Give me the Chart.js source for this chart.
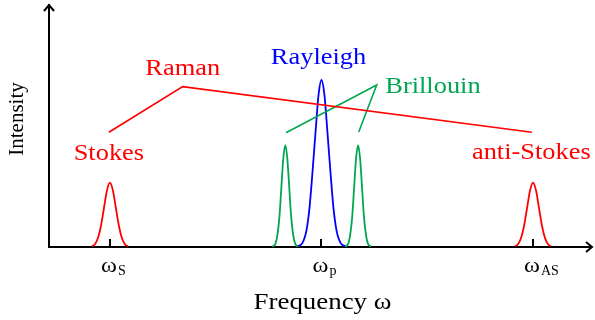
<!DOCTYPE html>
<html>
<head>
<meta charset="utf-8">
<title>Light scattering spectrum</title>
<script src="https://cdn.jsdelivr.net/npm/chart.js@4.4.1/dist/chart.umd.min.js"></script>
<style>
  html, body { margin: 0; padding: 0; background: #fff; }
</style>
</head>
<body>
<canvas id="spectrum" width="595" height="320"></canvas>
<script>
// frequency axis: omega_p = 0, omega_S = -1, omega_AS = +1 (arbitrary units)
const tickValues = [-1, 0, 1];
const tickSubs = ["S", "p", "AS"];

// Stokes (Raman) peak
const stokesX = [-1.085, -1.071, -1.057, -1.043, -1.028, -1.014, -1.0, -0.986, -0.972, -0.957, -0.943, -0.929, -0.915];
const stokesY = [0.004, 0.017, 0.052, 0.123, 0.235, 0.339, 0.385, 0.339, 0.235, 0.123, 0.052, 0.017, 0.004];

// anti-Stokes (Raman) peak
const antiStokesX = [0.915, 0.929, 0.943, 0.957, 0.972, 0.986, 1.0, 1.014, 1.028, 1.043, 1.057, 1.071, 1.085];
const antiStokesY = [0.004, 0.017, 0.052, 0.123, 0.235, 0.339, 0.385, 0.339, 0.235, 0.123, 0.052, 0.017, 0.004];

// Rayleigh peak
const rayleighX = [-0.118, -0.090, -0.071, -0.057, -0.043, -0.028, -0.014, 0, 0.014, 0.028, 0.043, 0.057, 0.071, 0.090, 0.118];
const rayleighY = [0.002, 0.025, 0.10, 0.23, 0.44, 0.69, 0.91, 1.0, 0.91, 0.69, 0.44, 0.23, 0.10, 0.025, 0.002];

// Brillouin peaks (lower / upper)
const brillouinLowX = [-0.232, -0.218, -0.209, -0.199, -0.190, -0.1805, -0.171, -0.1615, -0.152, -0.143, -0.133, -0.124, -0.110];
const brillouinLowY = [0.002, 0.019, 0.067, 0.177, 0.35, 0.53, 0.61, 0.53, 0.35, 0.177, 0.067, 0.019, 0.002];
const brillouinHighX = [0.112, 0.126, 0.135, 0.145, 0.154, 0.1635, 0.173, 0.1825, 0.192, 0.201, 0.211, 0.220, 0.234];
const brillouinHighY = [0.002, 0.019, 0.067, 0.177, 0.35, 0.53, 0.61, 0.53, 0.35, 0.177, 0.067, 0.019, 0.002];

// leader lines from the labels
const ramanLineX = [-1.005, -0.656, 0.994];
const ramanLineY = [0.687, 0.960, 0.687];
const brillouinLineX = [-0.168, 0.261, 0.176];
const brillouinLineY = [0.684, 0.970, 0.689];

const RED = "#ff0000";
const BLUE = "#0000ff";
const GREEN = "#00a651";
const SERIF = "'Liberation Serif', 'Times New Roman', serif";

const pts = (xs, ys) => xs.map((x, i) => ({ x: x, y: ys[i] }));

function peak(xs, ys, color) {
  return {
    data: pts(xs, ys),
    borderColor: color,
    borderWidth: 1.8,
    pointRadius: 0,
    fill: false,
    cubicInterpolationMode: "monotone"
  };
}

function leader(xs, ys, color) {
  return {
    data: pts(xs, ys),
    borderColor: color,
    borderWidth: 1.6,
    pointRadius: 0,
    fill: false,
    tension: 0
  };
}

// text labels (placed in data coordinates)
const annotations = [
  { text: "Raman", x: -0.656, y: 1.03, color: RED },
  { text: "Rayleigh", x: -0.014, y: 1.096, color: BLUE },
  { text: "Brillouin", x: 0.527, y: 0.92, color: GREEN },
  { text: "Stokes", x: -1.005, y: 0.52, color: RED },
  { text: "anti-Stokes", x: 0.992, y: 0.524, color: RED }
];

function wideText(ctx, text, x, y, sx) {
  ctx.save();
  ctx.translate(x, y);
  ctx.scale(sx, 1);
  ctx.fillText(text, 0, 0);
  ctx.restore();
}

const decorations = {
  id: "decorations",
  afterDraw(chart) {
    const ctx = chart.ctx;
    const xs = chart.scales.x, ys = chart.scales.y;
    const area = chart.chartArea;
    const x0 = area.left, y0 = area.bottom;

    ctx.save();
    ctx.strokeStyle = "#000";
    ctx.lineWidth = 2;
    ctx.lineJoin = "miter";

    // arrow heads
    ctx.beginPath();
    ctx.moveTo(area.right - 5, y0 - 5);
    ctx.lineTo(area.right + 1, y0);
    ctx.lineTo(area.right - 5, y0 + 5);
    ctx.stroke();
    ctx.beginPath();
    ctx.moveTo(x0 - 5, area.top + 6);
    ctx.lineTo(x0, area.top);
    ctx.lineTo(x0 + 5, area.top + 6);
    ctx.stroke();

    // tick marks pointing into the plot
    tickValues.forEach(v => {
      const px = Math.round(xs.getPixelForValue(v));
      ctx.beginPath();
      ctx.moveTo(px, y0);
      ctx.lineTo(px, y0 - 8);
      ctx.stroke();
    });

    // tick labels: omega with subscripts
    ctx.fillStyle = "#000";
    ctx.textBaseline = "alphabetic";
    tickValues.forEach((v, i) => {
      const px = xs.getPixelForValue(v);
      ctx.font = "21px " + SERIF;
      ctx.textAlign = "center";
      wideText(ctx, "ω", px - 1, 272, 1.15);
      const w = ctx.measureText("ω").width * 1.15;
      ctx.font = "14px " + SERIF;
      ctx.textAlign = "left";
      ctx.fillText(tickSubs[i], px - 1 + w / 2 + 1, 275);
    });

    // axis titles
    ctx.font = "24px " + SERIF;
    ctx.textAlign = "center";
    wideText(ctx, "Frequency ω", xs.getPixelForValue(0) + 1, 309, 1.12);
    ctx.save();
    ctx.translate(23, 119);
    ctx.rotate(-Math.PI / 2);
    ctx.font = "20px " + SERIF;
    ctx.textAlign = "center";
    wideText(ctx, "Intensity", 0, 0, 1.05);
    ctx.restore();

    // coloured labels
    ctx.font = "24px " + SERIF;
    ctx.textAlign = "center";
    annotations.forEach(a => {
      ctx.fillStyle = a.color;
      wideText(ctx, a.text, xs.getPixelForValue(a.x), ys.getPixelForValue(a.y), 1.1);
    });
    ctx.restore();
  }
};

new Chart(document.getElementById("spectrum"), {
  type: "line",
  data: {
    datasets: [
      leader(ramanLineX, ramanLineY, RED),
      leader(brillouinLineX, brillouinLineY, GREEN),
      peak(stokesX, stokesY, RED),
      peak(antiStokesX, antiStokesY, RED),
      peak(brillouinLowX, brillouinLowY, GREEN),
      peak(brillouinHighX, brillouinHighY, GREEN),
      peak(rayleighX, rayleighY, BLUE)
    ]
  },
  options: {
    responsive: false,
    animation: false,
    layout: { padding: { left: 49, right: 4, top: 5, bottom: 73 } },
    plugins: { legend: { display: false }, tooltip: { enabled: false } },
    scales: {
      x: {
        type: "linear",
        min: -1.288,
        max: 1.274,
        ticks: { display: false },
        grid: { display: false, drawTicks: false },
        border: { display: true, color: "#000", width: 2 }
      },
      y: {
        type: "linear",
        min: 0,
        max: 1.449,
        ticks: { display: false },
        grid: { display: false, drawTicks: false },
        border: { display: true, color: "#000", width: 2 }
      }
    }
  },
  plugins: [decorations]
});
</script>
</body>
</html>
